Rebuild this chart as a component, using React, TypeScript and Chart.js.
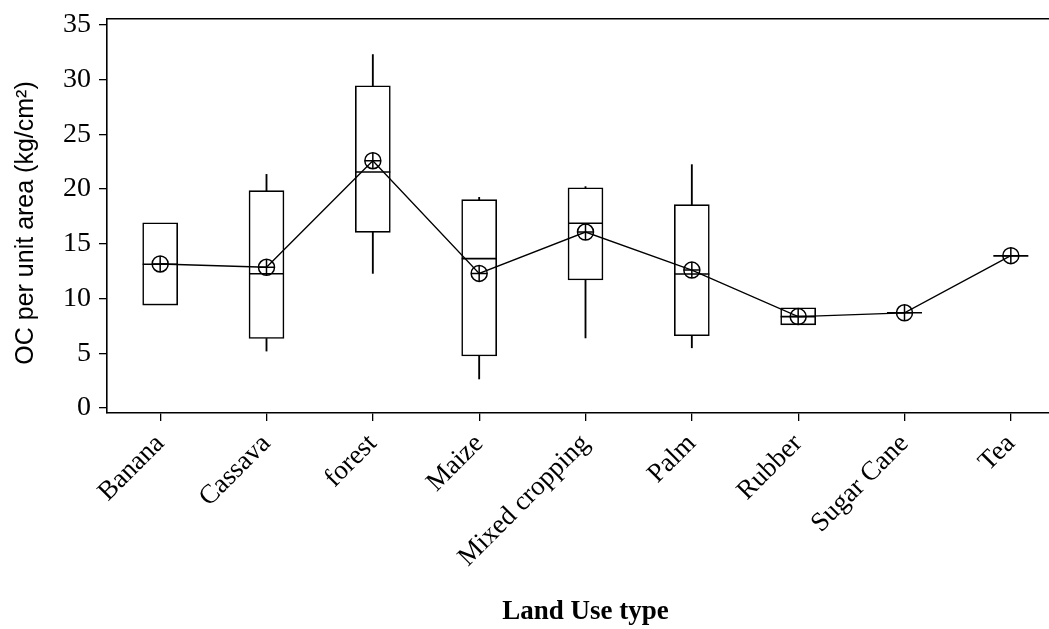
import React, { useEffect, useRef } from 'react';
import { Chart, registerables } from 'chart.js';

Chart.register(...registerables);

const categories = ['Banana', 'Cassava', 'forest', 'Maize', 'Mixed cropping', 'Palm', 'Rubber', 'Sugar Cane', 'Tea'];
const whiskerLow: (number | null)[] = [null, 5.2, 12.3, 2.65, 6.4, 5.5, null, null, null];
const q1 = [9.4, 6.35, 16.05, 4.75, 11.7, 6.6, 7.6, 8.7, 13.9];
const medians = [13.13, 12.27, 21.57, 13.65, 16.88, 12.25, 8.35, 8.7, 13.9];
const q3 = [16.93, 19.86, 29.45, 19.04, 20.13, 18.58, 9.15, 8.7, 13.9];
const whiskerHigh: (number | null)[] = [null, 21.35, 32.3, 19.25, 20.23, 22.24, null, null, null];
const means = [13.16, 12.86, 22.6, 12.3, 16.08, 12.6, 8.35, 8.7, 13.92];
const yTicks = [0, 5, 10, 15, 20, 25, 30, 35];

const SERIF = '"Liberation Serif", "Times New Roman", serif';
const SANS = '"Liberation Sans", Arial, sans-serif';

export default function App() {
  const ref = useRef<HTMLCanvasElement>(null);

  useEffect(() => {
    if (!ref.current) return;
    const lowerWhisker = categories.map((_, i) => (whiskerLow[i] == null ? null : [whiskerLow[i] as number, q1[i]]));
    const upperWhisker = categories.map((_, i) => (whiskerHigh[i] == null ? null : [q3[i], whiskerHigh[i] as number]));
    const boxes = categories.map((_, i) => (q3[i] > q1[i] ? [q1[i], q3[i]] : null));

    const chart = new Chart(ref.current, {
      type: 'bar',
      data: {
        labels: categories,
        datasets: [
          {
            type: 'line',
            label: 'Mean',
            data: means,
            order: 0,
            borderColor: '#000',
            borderWidth: 1.3,
            tension: 0,
            pointStyle: 'circle',
            pointRadius: 8,
            pointBorderWidth: 1.5,
            pointBackgroundColor: 'rgba(0,0,0,0)',
            pointBorderColor: '#000',
          } as any,
          {
            type: 'line',
            label: 'Mean cross',
            data: means,
            order: 1,
            showLine: false,
            pointStyle: 'cross',
            pointRadius: 8,
            pointBorderWidth: 1.5,
            pointBorderColor: '#000',
          } as any,
          {
            type: 'line',
            label: 'Median',
            data: medians,
            order: 2,
            showLine: false,
            pointStyle: 'line',
            pointRadius: 17.5,
            pointBorderWidth: 1.6,
            pointBorderColor: '#000',
          } as any,
          {
            type: 'bar',
            label: 'IQR',
            data: boxes,
            order: 3,
            grouped: false,
            barThickness: 35,
            backgroundColor: '#fff',
            borderColor: '#000',
            borderWidth: 1.6,
            borderSkipped: false,
          } as any,
          {
            type: 'bar',
            label: 'Lower whisker',
            data: lowerWhisker,
            order: 4,
            grouped: false,
            barThickness: 1.2,
            backgroundColor: '#000',
            borderWidth: 0,
          } as any,
          {
            type: 'bar',
            label: 'Upper whisker',
            data: upperWhisker,
            order: 5,
            grouped: false,
            barThickness: 1.2,
            backgroundColor: '#000',
            borderWidth: 0,
          } as any,
        ],
      },
      options: {
        responsive: false,
        animation: false,
        devicePixelRatio: 1,
        layout: { autoPadding: false, padding: { left: 0, top: 19, right: 8, bottom: 0 } },
        plugins: { legend: { display: false }, tooltip: { enabled: false } },
        scales: {
          x: {
            type: 'category',
            position: 'bottom',
            offset: true,
            grid: { display: true, drawOnChartArea: false, drawTicks: true, tickLength: 8, offset: false, color: '#000', lineWidth: 1.3 },
            border: { display: true, color: '#000', width: 1.6 },
            ticks: {
              color: '#000',
              font: { family: SERIF, size: 27 },
              minRotation: 45,
              maxRotation: 45,
              padding: 7,
              autoSkip: false,
            },
            title: {
              display: true,
              text: 'Land Use type',
              color: '#000',
              font: { family: SERIF, size: 27, weight: 'bold' },
              padding: { top: 0, bottom: 1 },
            },
            afterFit: (s: any) => {
              s.height = 216;
              s.paddingLeft = 0;
              s.paddingRight = 0;
            },
          },
          xTop: {
            type: 'category',
            position: 'top',
            offset: true,
            grid: { display: false, drawTicks: false },
            border: { display: true, color: '#000', width: 1.6 },
            ticks: { display: false },
            afterFit: (s: any) => {
              s.height = 0;
              s.paddingLeft = 0;
              s.paddingRight = 0;
            },
          },
          y: {
            type: 'linear',
            min: -0.46,
            max: 35.55,
            bounds: 'data',
            afterBuildTicks: (s: any) => {
              s.ticks = yTicks.map((v) => ({ value: v }));
            },
            grid: { drawOnChartArea: false, drawTicks: true, tickLength: 8, color: '#000', lineWidth: 1.3 },
            border: { display: true, color: '#000', width: 1.6 },
            ticks: {
              color: '#000',
              font: { family: SERIF, size: 28 },
              padding: 8,
              callback: (v: any) => String(v),
            },
            title: {
              display: true,
              text: 'OC per unit area (kg/cm²)\u00A0\u00A0',
              color: '#000',
              font: { family: SANS, size: 25 },
              padding: { top: 11, bottom: 0 },
            },
            afterFit: (s: any) => {
              s.width = 107;
              s.paddingTop = 0;
              s.paddingBottom = 0;
            },
          },
        },
      } as any,
    });
    return () => chart.destroy();
  }, []);

  return (
    <div style={{ position: 'fixed', left: 0, top: 0, width: 1049, height: 629, overflow: 'hidden', background: '#fff' }}>
      <canvas ref={ref} width={1072} height={629} style={{ display: 'block' }} />
    </div>
  );
}
